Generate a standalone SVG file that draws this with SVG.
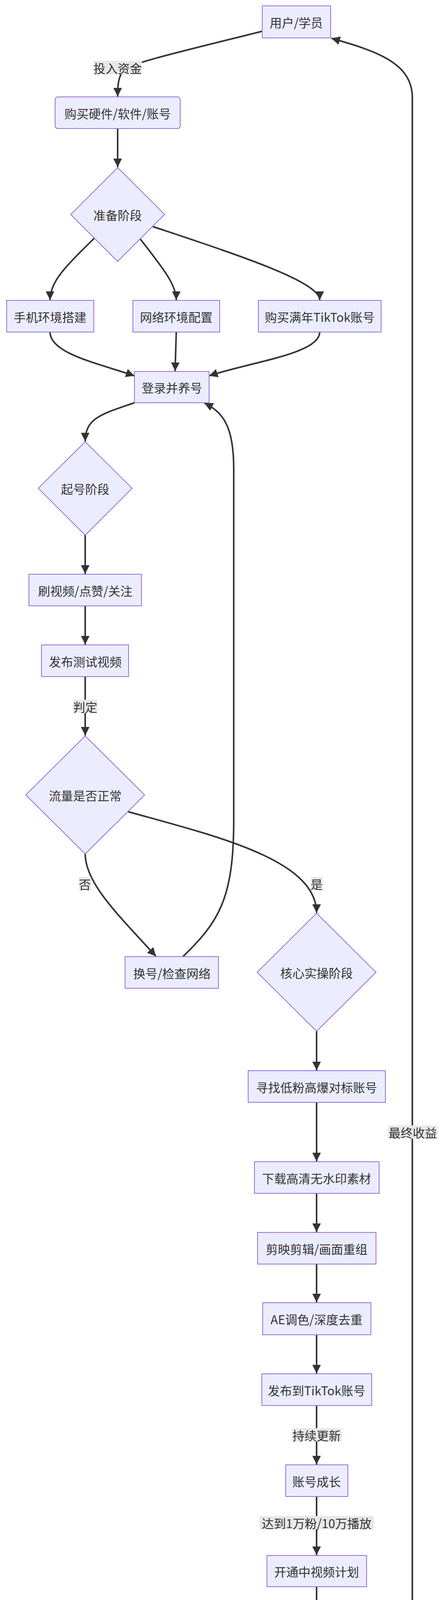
<svg xmlns="http://www.w3.org/2000/svg" width="1136" height="5192" viewBox="0 0 1136 5192">
<style>
.n{fill:#ECECFF;stroke:#9370DB;stroke-width:2}
.t{font-family:"Noto Sans CJK SC","Liberation Sans",sans-serif;font-size:31px;fill:#333;text-anchor:middle;dominant-baseline:central}
.e{fill:none;stroke:#333;stroke-width:4}
.lb{fill:#e8e8e8}
</style>
<defs>
<marker id="a" markerUnits="userSpaceOnUse" markerWidth="22" markerHeight="22" viewBox="0 0 10 10" refX="10" refY="5" orient="auto"><path d="M0,0L10,5L0,10z" fill="#333"/></marker>
</defs>
<rect width="1136" height="5192" fill="#fff"/>
<g id="connectors">
<path class="e" marker-end="url(#a)" d="M671,80 C480,128 340,160 318,178 C302,195 301,220 301,247"/>
<path class="e" marker-end="url(#a)" d="M301,329 L301,428"/>
<path class="e" marker-end="url(#a)" d="M241,610 C170,680 128,720 128,768"/>
<path class="e" marker-end="url(#a)" d="M359,612 C420,690 451,730 451,768"/>
<path class="e" marker-end="url(#a)" d="M391,580 C600,650 818,720 818,768"/>
<path class="e" marker-end="url(#a)" d="M128,850 C128,905 250,930 344,962"/>
<path class="e" marker-end="url(#a)" d="M451,850 L448,950"/>
<path class="e" marker-end="url(#a)" d="M818,850 C818,905 650,925 535,962"/>
<path class="e" marker-end="url(#a)" d="M344,1031 C260,1060 218,1070 218,1130"/>
<path class="e" marker-end="url(#a)" d="M218,1370 L218,1469"/>
<path class="e" marker-end="url(#a)" d="M218,1551 L218,1650"/>
<path class="e" marker-end="url(#a)" d="M218,1732 L218,1883"/>
<path class="e" marker-end="url(#a)" d="M218,2186 C218,2260 300,2340 399,2448"/>
<path class="e" marker-end="url(#a)" d="M328,2078 C550,2140 810,2200 810,2337"/>
<path class="e" marker-end="url(#a)" d="M468,2449 C560,2360 598,2300 598,2100 L598,1200 C598,1090 570,1055 523,1032"/>
<path class="e" marker-end="url(#a)" d="M810,2640 L810,2740"/>
<path class="e" marker-end="url(#a)" d="M810,2822 L810,2973"/>
<path class="e" marker-end="url(#a)" d="M810,3055 L810,3154"/>
<path class="e" marker-end="url(#a)" d="M810,3236 L810,3334"/>
<path class="e" marker-end="url(#a)" d="M810,3417 L810,3516"/>
<path class="e" marker-end="url(#a)" d="M810,3598 L810,3749"/>
<path class="e" marker-end="url(#a)" d="M810,3831 L810,3981"/>
<path class="e" marker-end="url(#a)" d="M810,4062 L810,4162"/>
<path class="e" marker-end="url(#a)" d="M810,4244 L810,4395"/>
<path class="e" marker-end="url(#a)" d="M810,4476 L810,4627"/>
<path class="e" marker-end="url(#a)" d="M810,4708 L810,4859"/>
<path class="e" marker-end="url(#a)" d="M810,4941 C810,4990 805,5020 840,5040 L892,5091"/>
<path class="e" marker-end="url(#a)" d="M983,5092 C1040,5060 1055,5030 1055,4980 L1055,250 C1055,160 960,130 848,98"/>
<rect class="lb" x="239" y="156" width="124" height="34"/><text class="t" x="301" y="173">投入资金</text>
<rect class="lb" x="187" y="1791" width="62" height="34"/><text class="t" x="218" y="1808">判定</text>
<rect class="lb" x="202" y="2245" width="31" height="34"/><text class="t" x="217" y="2262">否</text>
<rect class="lb" x="795" y="2245" width="31" height="34"/><text class="t" x="810" y="2262">是</text>
<rect class="lb" x="993" y="2881" width="126" height="34"/><text class="t" x="1056" y="2898">最终收益</text>
<rect class="lb" x="747" y="3656" width="127" height="34"/><text class="t" x="810" y="3673">持续更新</text>
<rect class="lb" x="664" y="3881" width="292" height="34"/><text class="t" x="810" y="3898">达到1万粉/10万播放</text>
<rect class="lb" x="746" y="4302" width="128" height="34"/><text class="t" x="810" y="4319">次月15号</text>
<rect class="lb" x="779" y="4534" width="63" height="34"/><text class="t" x="810" y="4551">提现</text>
<rect class="lb" x="779" y="4766" width="63" height="34"/><text class="t" x="810" y="4783">提现</text>
<rect class="lb" x="779" y="5000" width="63" height="34"/><text class="t" x="810" y="5017">提现</text>
</g>
<g id="n1"><rect class="n" x="671" y="15" width="175" height="82"/><text class="t" x="758" y="56">用户/学员</text></g>
<g id="n2"><rect class="n" x="141" y="248" width="320" height="81" rx="7"/><text class="t" x="301" y="289">购买硬件/软件/账号</text></g>
<g id="n3"><polygon class="n" points="301,429 421,549 301,669 181,549"/><text class="t" x="301" y="549">准备阶段</text></g>
<g id="n4"><rect class="n" x="17" y="769" width="223" height="81"/><text class="t" x="128" y="810">手机环境搭建</text></g>
<g id="n5"><rect class="n" x="340" y="769" width="222" height="81"/><text class="t" x="451" y="810">网络环境配置</text></g>
<g id="n6"><rect class="n" x="661" y="769" width="314" height="81"/><text class="t" x="818" y="810">购买满年TikTok账号</text></g>
<g id="n7"><rect class="n" x="344" y="951" width="191" height="80"/><text class="t" x="440" y="991">登录并养号</text></g>
<g id="n8"><polygon class="n" points="218,1131 338,1250 218,1370 98,1250"/><text class="t" x="218" y="1250">起号阶段</text></g>
<g id="n9"><rect class="n" x="74" y="1470" width="288" height="81"/><text class="t" x="218" y="1511">刷视频/点赞/关注</text></g>
<g id="n10"><rect class="n" x="106" y="1651" width="223" height="81"/><text class="t" x="218" y="1692">发布测试视频</text></g>
<g id="n11"><polygon class="n" points="218,1884 370,2035 218,2186 66,2035"/><text class="t" x="218" y="2035">流量是否正常</text></g>
<g id="n12"><rect class="n" x="320" y="2449" width="239" height="81"/><text class="t" x="440" y="2490">换号/检查网络</text></g>
<g id="n13"><polygon class="n" points="810,2338 962,2489 810,2640 658,2489"/><text class="t" x="810" y="2489">核心实操阶段</text></g>
<g id="n14"><rect class="n" x="635" y="2741" width="351" height="81"/><text class="t" x="810" y="2782">寻找低粉高爆对标账号</text></g>
<g id="n15"><rect class="n" x="651" y="2974" width="319" height="81"/><text class="t" x="810" y="3015">下载高清无水印素材</text></g>
<g id="n16"><rect class="n" x="659" y="3155" width="303" height="81"/><text class="t" x="810" y="3196">剪映剪辑/画面重组</text></g>
<g id="n17"><rect class="n" x="672" y="3335" width="277" height="82"/><text class="t" x="810" y="3376">AE调色/深度去重</text></g>
<g id="n18"><rect class="n" x="670" y="3517" width="281" height="81"/><text class="t" x="810" y="3558">发布到TikTok账号</text></g>
<g id="n19"><rect class="n" x="731" y="3750" width="159" height="81"/><text class="t" x="810" y="3791">账号成长</text></g>
<g id="n20"><rect class="n" x="683" y="3982" width="255" height="80"/><text class="t" x="810" y="4022">开通中视频计划</text></g>
<g id="n21"><rect class="n" x="683" y="4163" width="255" height="81"/><text class="t" x="810" y="4204">视频获得播放量</text></g>
<g id="n22"><rect class="n" x="654" y="4396" width="313" height="80"/><text class="t" x="810" y="4436">TikTok支付美元收益</text></g>
<g id="n23"><rect class="n" x="685" y="4628" width="251" height="80"/><text class="t" x="810" y="4668">PayPal贝宝账户</text></g>
<g id="n24"><rect class="n" x="642" y="4860" width="337" height="81"/><text class="t" x="810" y="4901">第三方支付平台/结行</text></g>
<g id="n25"><rect class="n" x="792" y="5092" width="304" height="81"/><text class="t" x="944" y="5133">国内银行卡/人民币</text></g>
</svg>
